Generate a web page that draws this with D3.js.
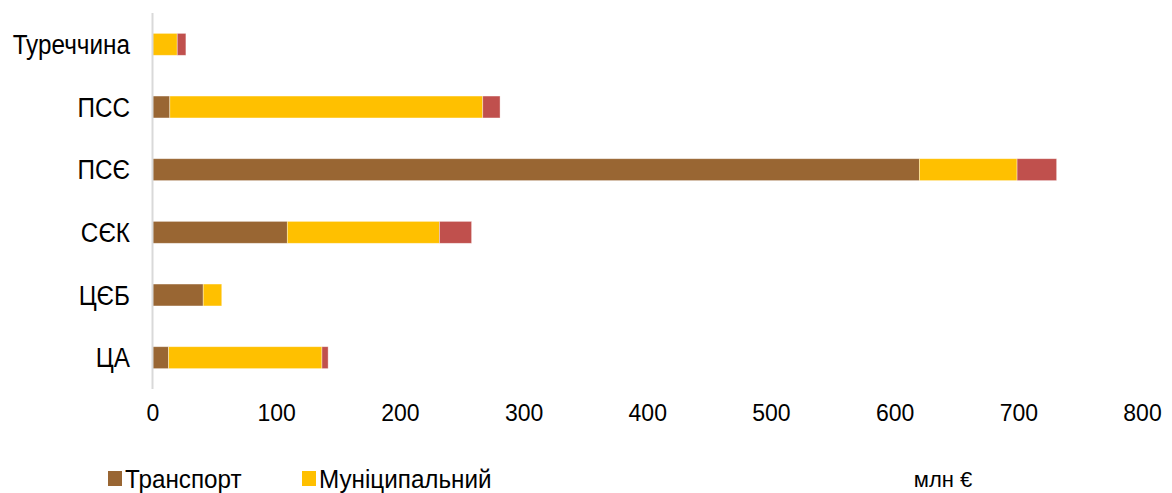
<!DOCTYPE html>
<html lang="uk">
<head>
<meta charset="UTF-8">
<title>Інвестиції за напрямами</title>
<script src="https://d3js.org/d3.v7.min.js"></script>
<style>
  body { margin: 0; background: #fff; }
  .cat { font-family: "Liberation Sans Narrow", "Arial Narrow", "Liberation Sans", sans-serif; font-size: 27px; fill: #000; }
  .tick text { font-family: "Liberation Sans", Arial, sans-serif; font-size: 23px; fill: #000; }
  .leg { font-family: "Liberation Sans Narrow", "Arial Narrow", "Liberation Sans", sans-serif; font-size: 25px; fill: #000; }
</style>
</head>
<body>
<svg id="chart" width="1172" height="493"></svg>
<script>
// categories, top to bottom
const categories = ["Туреччина", "ПСС", "ПСЄ", "СЄК", "ЦЄБ", "ЦА"];

// values, млн €
const transport = [0, 14, 620, 109, 41, 13];
const municipal = [20, 253, 79, 123, 15, 124];
const other = [7, 14, 32, 26, 0, 5];

const seriesNames = ["Транспорт", "Муніципальний", "Інше"];
const seriesColors = ["#996633", "#FFC000", "#C0504D"];
const xTicks = [0, 100, 200, 300, 400, 500, 600, 700, 800];

const svg = d3.select("#chart");

const x = d3.scaleLinear().domain([0, 800]).range([152.5, 1142]);
const y = d3.scaleBand().domain(categories).range([13, 389])
    .paddingInner(0.65).paddingOuter(0.325);

// build stacked rows
const rows = categories.map((c, i) => ({
    cat: c, "Транспорт": transport[i], "Муніципальний": municipal[i], "Інше": other[i]
}));
const stacked = d3.stack().keys(seriesNames)(rows);

svg.selectAll("g.series")
    .data(stacked)
    .enter().append("g")
    .attr("class", "series")
    .attr("fill", (d, i) => seriesColors[i])
    .selectAll("rect")
    .data(d => d.filter(s => s[1] - s[0] > 0))
    .enter().append("rect")
    .attr("x", d => x(d[0]))
    .attr("y", d => y(d.data.cat))
    .attr("width", d => x(d[1]) - x(d[0]))
    .attr("height", y.bandwidth())
    .attr("stroke", "rgba(255,255,255,0.5)")
    .attr("stroke-width", 0.75);

// vertical axis line
svg.append("line")
    .attr("x1", x(0)).attr("x2", x(0))
    .attr("y1", 13).attr("y2", 389)
    .attr("stroke", "#d9d9d9").attr("stroke-width", 2);

// category labels (squeezed to look like a narrow face)
svg.selectAll("text.cat")
    .data(categories)
    .enter().append("text")
    .attr("class", "cat")
    .attr("transform", d => `translate(130,${y(d) + y.bandwidth() / 2}) scale(0.9,1)`)
    .attr("dy", "0.36em")
    .attr("text-anchor", "end")
    .text(d => d);

// x axis labels, no line or ticks
const xAxis = svg.append("g")
    .attr("transform", "translate(0,405)")
    .call(d3.axisBottom(x).tickValues(xTicks).tickSize(0).tickPadding(0));
xAxis.select(".domain").remove();
xAxis.selectAll(".tick text").attr("dy", "0.71em");

// legend (two series only, like the original)
const legend = [
    { name: seriesNames[0], color: seriesColors[0], x: 108 },
    { name: seriesNames[1], color: seriesColors[1], x: 302 }
];
const lg = svg.selectAll("g.legend")
    .data(legend)
    .enter().append("g")
    .attr("class", "legend")
    .attr("transform", d => `translate(${d.x},471)`);
lg.append("rect")
    .attr("width", 14).attr("height", 15)
    .attr("fill", d => d.color);
lg.append("text")
    .attr("class", "leg")
    .attr("transform", "translate(17,8) scale(0.97,1)")
    .attr("dy", "0.36em")
    .text(d => d.name);

svg.append("text")
    .attr("class", "leg")
    .attr("x", 943).attr("y", 479).attr("dy", "0.35em")
    .attr("text-anchor", "middle")
    .style("font-family", "'Liberation Sans', Arial, sans-serif")
    .style("font-size", "22px")
    .text("млн €");
</script>
</body>
</html>
